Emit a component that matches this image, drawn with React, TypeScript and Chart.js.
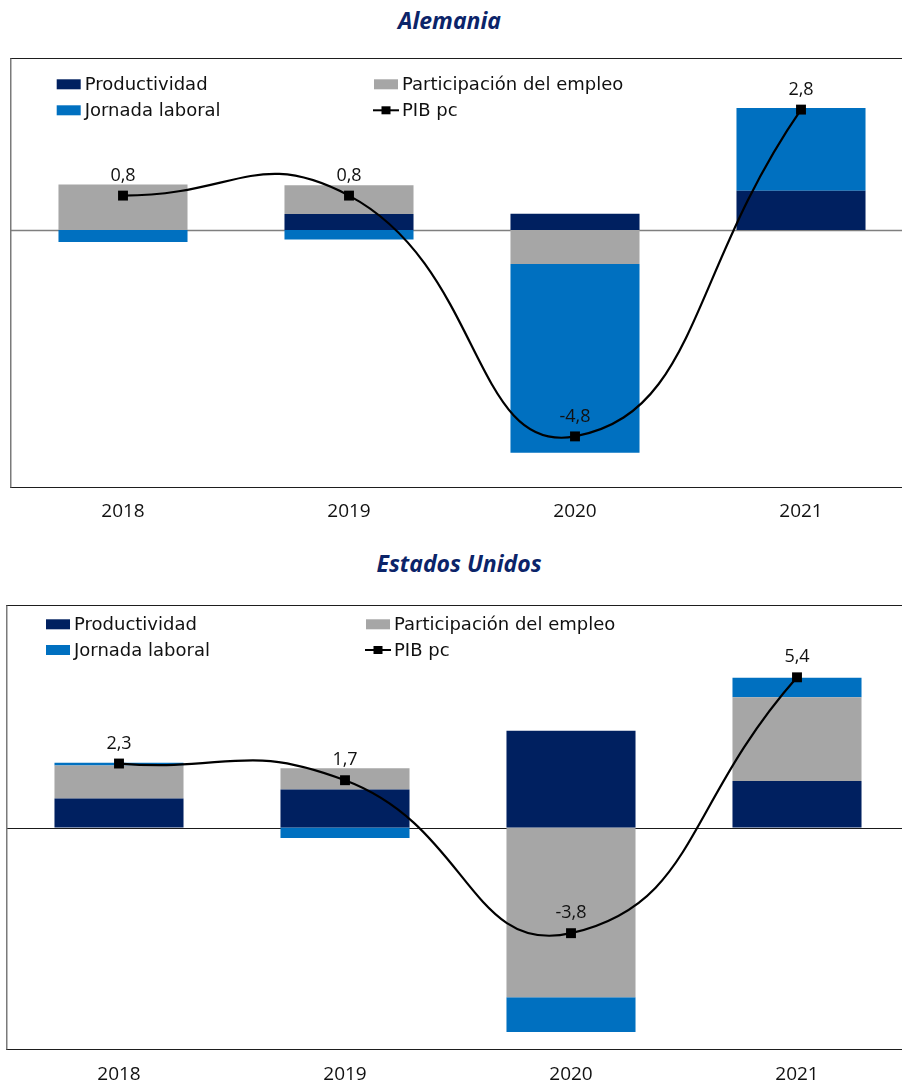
import React, { useEffect, useRef } from 'react';
import { Chart, registerables } from 'chart.js';

Chart.register(...registerables);

// Categories
const years = ['2018', '2019', '2020', '2021'];

// Alemania: contributions (pp) and GDP per capita growth
const deProductividad = [0, 0.37, 0.38, 0.91];
const deParticipacion = [1.06, 0.67, -0.79, 0];
const deJornada = [-0.28, -0.22, -4.39, 1.93];
const dePib = [0.8, 0.8, -4.8, 2.8];

// Estados Unidos
const usProductividad = [1.04, 1.37, 3.48, 1.67];
const usParticipacion = [1.19, 0.76, -6.1, 3.01];
const usJornada = [0.1, -0.38, -1.25, 0.7];
const usPib = [2.3, 1.7, -3.8, 5.4];

const seriesNames = ['Productividad', 'Participación del empleo', 'Jornada laboral', 'PIB pc'];

const C_PROD = '#002060';
const C_PART = '#A6A6A6';
const C_JORN = '#0070C0';
const C_PIB = '#000000';

const SANS = "'DejaVu Sans', Verdana, sans-serif";
const OPEN = "'Open Sans', 'DejaVu Sans', sans-serif";

type PanelCfg = {
  title: string;
  prod: number[];
  part: number[];
  jorn: number[];
  pib: number[];
  yMin: number;
  yMax: number;
  left: number;
  top: number;
  width: number;
  height: number;
  titleX: number;
  titleTop: number;
  tickPad: number;
  legendCols: number[];
  legendRows: number[];
  zeroColor: string;
  zeroWidth: number;
};

const fmt = (v: number) => v.toFixed(1).replace('.', ',');

function Panel({ cfg }: { cfg: PanelCfg }) {
  const ref = useRef<HTMLCanvasElement>(null);

  useEffect(() => {
    const canvas = ref.current!;

    const framePlugin = {
      id: 'frameAndZero',
      beforeDatasetsDraw(chart: any) {
        const { ctx, chartArea, scales } = chart;
        const y0 = Math.round(scales.y.getPixelForValue(0)) + 0.5;
        ctx.save();
        ctx.strokeStyle = cfg.zeroColor;
        ctx.lineWidth = cfg.zeroWidth;
        ctx.beginPath();
        ctx.moveTo(chartArea.left, y0);
        ctx.lineTo(chartArea.right, y0);
        ctx.stroke();
        ctx.restore();
      },
      afterDraw(chart: any) {
        const { ctx, chartArea } = chart;
        const left = Math.round(chartArea.left);
        const right = chartArea.right;
        const top = Math.round(chartArea.top) + 0.5;
        const bottom = Math.round(chartArea.bottom) - 0.5;
        ctx.save();
        ctx.strokeStyle = '#1e1e1e';
        ctx.lineWidth = 1;
        ctx.beginPath();
        ctx.moveTo(left, top);
        ctx.lineTo(right, top);
        ctx.moveTo(left, bottom);
        ctx.lineTo(right, bottom);
        ctx.stroke();
        ctx.strokeStyle = '#7a7a7a';
        ctx.lineWidth = 1.5;
        ctx.beginPath();
        ctx.moveTo(left + 0.75, top);
        ctx.lineTo(left + 0.75, bottom);
        ctx.stroke();
        ctx.restore();
      },
    };

    const legendPlugin = {
      id: 'gridLegend',
      afterDraw(chart: any) {
        const { ctx, chartArea } = chart;
        const fills = [C_PROD, C_PART, C_JORN];
        ctx.save();
        ctx.font = `18px ${SANS}`;
        ctx.textBaseline = 'middle';
        ctx.textAlign = 'left';
        seriesNames.forEach((name, i) => {
          const x = chartArea.left + cfg.legendCols[i % 2];
          const yc = chartArea.top + cfg.legendRows[Math.floor(i / 2)];
          if (i < 3) {
            ctx.fillStyle = fills[i];
            ctx.fillRect(x, yc - 5, 24, 10);
          } else {
            ctx.strokeStyle = C_PIB;
            ctx.lineWidth = 2;
            ctx.beginPath();
            ctx.moveTo(x - 1, yc);
            ctx.lineTo(x + 25, yc);
            ctx.stroke();
            ctx.fillStyle = C_PIB;
            ctx.fillRect(x + 7.5, yc - 4, 9, 8);
          }
          ctx.fillStyle = '#111';
          ctx.fillText(name, x + 28, yc + 1);
        });
        ctx.restore();
      },
    };

    const valueLabels = {
      id: 'pibLabels',
      afterDatasetsDraw(chart: any) {
        const { ctx } = chart;
        const meta = chart.getDatasetMeta(0);
        const values = chart.data.datasets[0].data as number[];
        ctx.save();
        ctx.fillStyle = '#111';
        ctx.textAlign = 'center';
        ctx.textBaseline = 'middle';
        ctx.font = `18px ${OPEN}`;
        meta.data.forEach((pt: any, i: number) => {
          ctx.fillText(fmt(values[i]), pt.x, pt.y - 20);
        });
        ctx.restore();
      },
    };

    const chart = new Chart(canvas, {
      type: 'bar',
      data: {
        labels: years,
        datasets: [
          {
            type: 'line',
            label: seriesNames[3],
            data: cfg.pib,
            borderColor: C_PIB,
            borderWidth: 2.2,
            tension: 0.5,
            pointStyle: 'rect',
            pointRadius: 7,
            pointBackgroundColor: C_PIB,
            pointBorderColor: C_PIB,
            pointBorderWidth: 0,
            order: 0,
            stack: 'pib',
          } as any,
          {
            type: 'bar',
            label: seriesNames[0],
            data: cfg.prod,
            backgroundColor: C_PROD,
            order: 1,
            stack: 'bars',
          },
          {
            type: 'bar',
            label: seriesNames[1],
            data: cfg.part,
            backgroundColor: C_PART,
            order: 1,
            stack: 'bars',
          },
          {
            type: 'bar',
            label: seriesNames[2],
            data: cfg.jorn,
            backgroundColor: C_JORN,
            order: 1,
            stack: 'bars',
          },
        ],
      },
      options: {
        responsive: false,
        animation: false,
        devicePixelRatio: 1,
        layout: { padding: 0, autoPadding: false },
        datasets: {
          bar: { barPercentage: 0.571, categoryPercentage: 1 },
        },
        plugins: {
          legend: { display: false },
          tooltip: { enabled: false },
          title: { display: false },
        },
        scales: {
          x: {
            stacked: true,
            offset: true,
            grid: { display: false, drawTicks: false, tickLength: 0 },
            border: { display: false },
            ticks: {
              color: '#111',
              padding: cfg.tickPad,
              font: { family: OPEN, size: 19 },
            },
          },
          y: {
            stacked: true,
            display: false,
            min: cfg.yMin,
            max: cfg.yMax,
          },
        },
      },
      plugins: [framePlugin, legendPlugin, valueLabels],
    });

    return () => chart.destroy();
  }, [cfg]);

  return (
    <>
      <div
        style={{
          position: 'absolute',
          left: cfg.titleX - 200,
          width: 400,
          top: cfg.titleTop,
          textAlign: 'center',
          fontFamily: OPEN,
          fontStyle: 'italic',
          fontWeight: 700,
          fontSize: 23,
          lineHeight: '23px',
          color: '#0B2469',
          whiteSpace: 'nowrap',
        }}
      >
        {cfg.title}
      </div>
      <canvas
        ref={ref}
        width={cfg.width}
        height={cfg.height}
        style={{
          position: 'absolute',
          left: cfg.left,
          top: cfg.top,
          width: cfg.width,
          height: cfg.height,
          display: 'block',
        }}
      />
    </>
  );
}

const alemania: PanelCfg = {
  title: 'Alemania',
  prod: deProductividad,
  part: deParticipacion,
  jorn: deJornada,
  pib: dePib,
  yMin: -6,
  yMax: 4,
  left: 10,
  top: 58,
  width: 904,
  height: 478,
  titleX: 449.5,
  titleTop: 9,
  tickPad: 12.6,
  legendCols: [46.7, 364],
  legendRows: [26.3, 52.3],
  zeroColor: '#7f7f7f',
  zeroWidth: 1.5,
};

const estadosUnidos: PanelCfg = {
  title: 'Estados Unidos',
  prod: usProductividad,
  part: usParticipacion,
  jorn: usJornada,
  pib: usPib,
  yMin: -8,
  yMax: 8,
  left: 6,
  top: 605,
  width: 904,
  height: 495,
  titleX: 459,
  titleTop: 551.5,
  tickPad: 13.6,
  legendCols: [40, 360],
  legendRows: [19.3, 45],
  zeroColor: '#1a1a1a',
  zeroWidth: 1,
};

export default function App() {
  return (
    <div
      style={{
        position: 'fixed',
        left: 0,
        top: 0,
        width: 902,
        height: 1084,
        overflow: 'hidden',
        background: '#fff',
      }}
    >
      <Panel cfg={alemania} />
      <Panel cfg={estadosUnidos} />
    </div>
  );
}
